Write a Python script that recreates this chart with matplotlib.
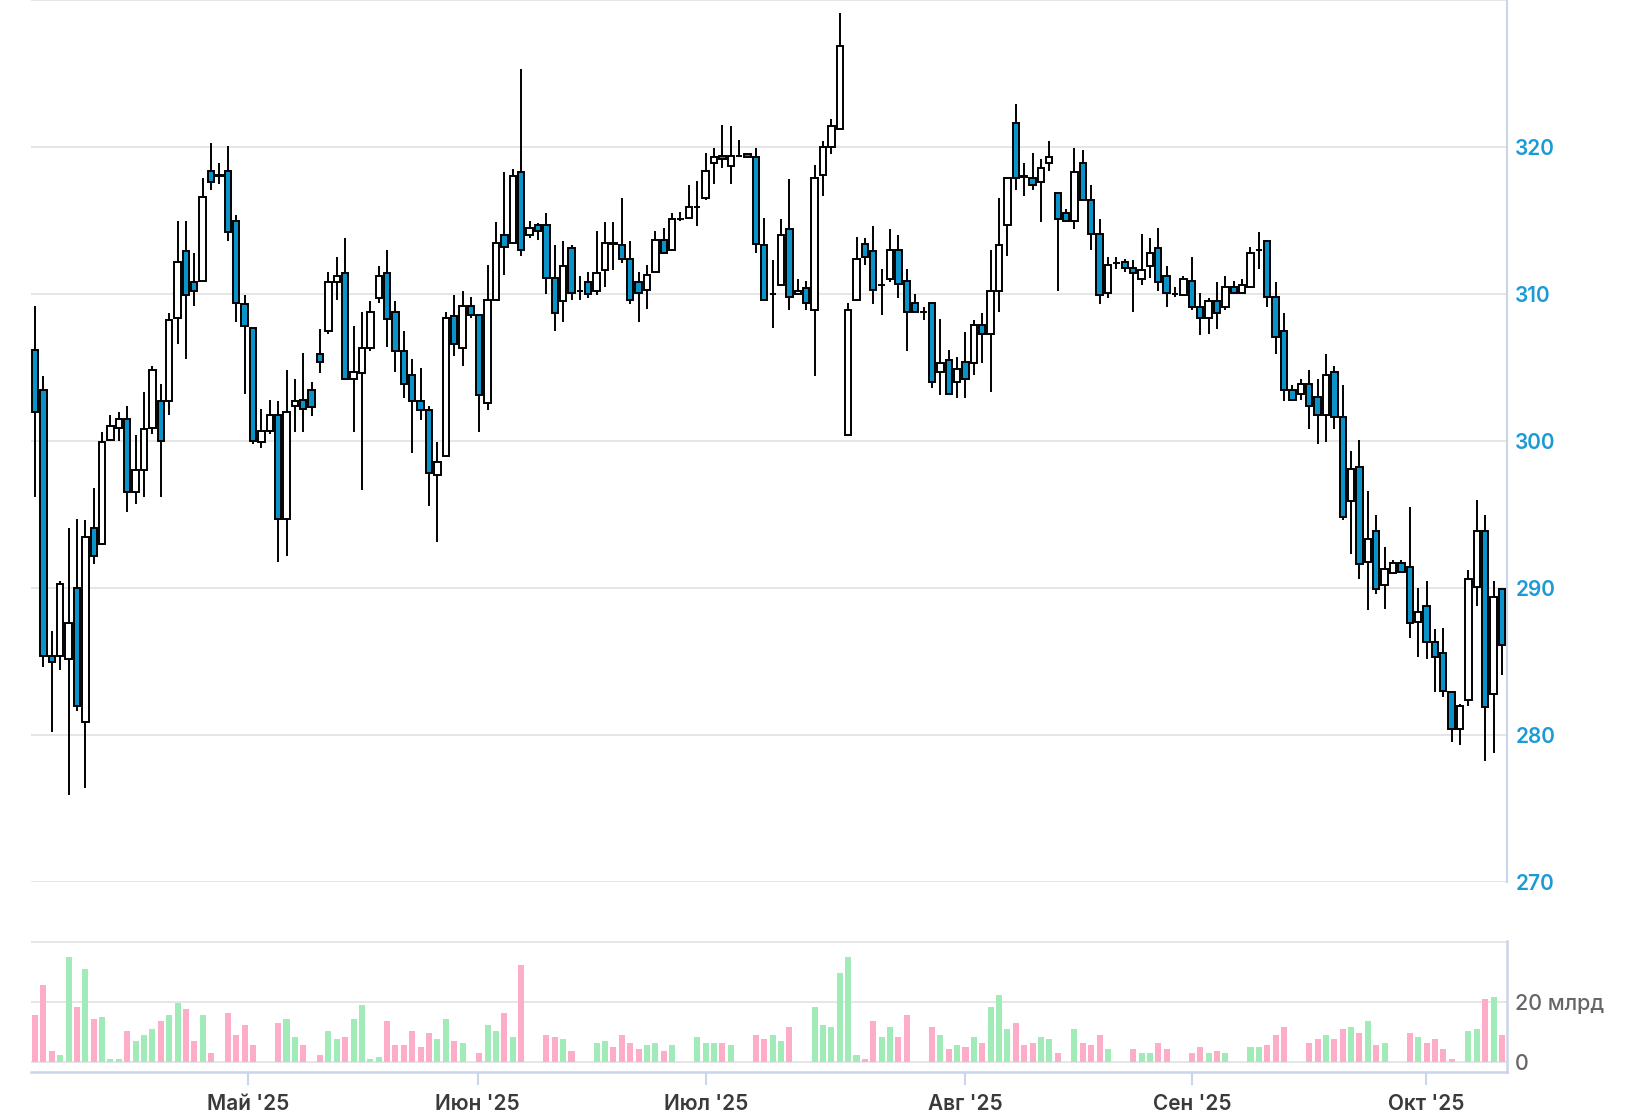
import numpy as np
import matplotlib
matplotlib.use("Agg")
import matplotlib.pyplot as plt

plt.rcParams['font.family'] = ['Inter', 'DejaVu Sans']

# daily candles (open, high, low, close)
opens = [306.2, 303.5, 285.4, 285.4, 285.2, 290.0, 280.9, 294.1, 293.0, 300.1,
         300.9, 301.5, 296.5, 298.0, 300.9, 302.7, 302.7, 308.4, 312.9, 310.8,
         310.9, 318.4, 318.0, 318.4, 315.0, 309.3, 307.7, 299.9, 300.7, 301.8,
         294.7, 302.4, 302.8, 303.5, 305.9, 307.5, 310.8, 311.4, 304.2, 304.6,
         306.3, 309.7, 311.4, 308.8, 306.1, 304.5, 302.7, 302.1, 297.7, 299.0,
         308.5, 306.3, 309.2, 308.6, 302.6, 309.6, 314.0, 313.5, 318.3, 314.0,
         314.7, 314.7, 311.1, 309.5, 313.1, 310.2, 310.8, 310.2, 311.6, 313.45,
         313.3, 312.4, 310.8, 310.3, 311.5, 313.7, 313.0, 315.1, 315.2, 315.9,
         316.5, 318.9, 319.4, 318.7, 319.4, 319.5, 319.3, 313.3, 310.0, 310.6,
         314.4, 310.0, 310.4, 308.9, 318.1, 320.0, 321.2, 300.4, 309.6, 313.4,
         312.9, 310.6, 311.0, 313.0, 310.9, 309.4, 308.8, 309.4, 304.7, 305.5,
         304.0, 305.4, 305.3, 307.9, 307.3, 310.2, 314.7, 321.6, 318.0, 317.9,
         317.6, 318.9, 316.9, 315.5, 315.0, 318.9, 316.4, 314.1, 310.1, 312.1,
         312.2, 311.8, 311.0, 311.9, 313.1, 311.2, 310.0, 309.9, 310.9, 309.1,
         308.4, 309.5, 309.1, 310.5, 310.1, 310.5, 313.0, 313.6, 309.8, 307.5,
         303.5, 303.2, 303.9, 303.0, 301.8, 304.7, 301.6, 295.9, 298.2, 291.8,
         293.9, 290.2, 291.0, 291.7, 291.4, 287.7, 288.8, 286.3, 285.6, 282.9,
         280.4, 282.4, 290.1, 293.9, 282.8, 289.9]
highs = [309.2, 304.4, 287.1, 290.5, 294.1, 294.7, 294.6, 296.8, 300.6, 301.8,
         302.0, 302.4, 300.4, 303.3, 305.1, 303.9, 308.7, 315.0, 315.0, 312.8,
         317.9, 320.3, 318.9, 320.1, 315.4, 309.9, 307.7, 302.2, 302.8, 302.7,
         304.8, 304.2, 306.0, 304.0, 307.6, 311.5, 312.5, 313.8, 307.8, 308.8,
         309.5, 311.9, 313.0, 309.5, 307.5, 305.6, 305.0, 302.4, 299.9, 308.8,
         309.9, 310.2, 309.8, 308.6, 312.0, 314.9, 318.3, 318.5, 325.3, 315.0,
         314.8, 315.5, 313.3, 313.6, 313.3, 311.2, 311.5, 314.3, 314.9, 314.9,
         316.5, 313.6, 311.5, 312.0, 314.3, 314.5, 315.5, 315.6, 317.4, 317.7,
         319.6, 319.9, 321.5, 321.4, 320.5, 319.5, 319.9, 315.2, 312.3, 315.1,
         317.8, 311.0, 310.9, 318.8, 320.4, 321.9, 329.1, 309.4, 313.9, 313.8,
         314.6, 311.7, 314.4, 314.0, 311.7, 310.0, 309.1, 309.4, 308.3, 306.2,
         305.7, 307.4, 308.2, 308.7, 313.0, 316.5, 317.9, 322.9, 318.9, 319.6,
         319.2, 320.4, 316.9, 315.8, 319.9, 319.8, 317.4, 315.1, 312.5, 312.5,
         312.4, 312.3, 314.1, 313.8, 314.5, 311.9, 310.5, 311.2, 312.5, 310.1,
         309.7, 310.8, 311.2, 310.9, 311.0, 313.2, 314.2, 313.6, 310.8, 308.7,
         303.8, 304.2, 304.8, 304.2, 305.9, 305.1, 303.8, 299.3, 300.1, 296.6,
         295.0, 292.8, 291.9, 291.9, 295.5, 290.0, 290.5, 287.2, 287.3, 282.9,
         282.1, 291.2, 296.0, 295.0, 290.5, 289.9]
lows = [296.2, 284.6, 280.2, 284.4, 275.9, 281.6, 276.4, 291.6, 292.9, 300.1,
        300.0, 295.2, 295.7, 296.2, 300.5, 296.2, 301.8, 306.6, 305.6, 309.2,
        310.9, 317.1, 317.5, 313.6, 308.1, 303.2, 299.8, 299.5, 300.5, 291.8,
        292.2, 300.6, 300.6, 301.7, 304.6, 307.3, 309.6, 304.2, 300.6, 296.7,
        306.1, 309.4, 306.4, 304.7, 302.9, 299.2, 301.4, 295.6, 293.1, 299.0,
        305.8, 305.1, 308.4, 300.6, 302.1, 309.5, 311.3, 313.4, 312.6, 313.8,
        313.7, 310.0, 307.5, 308.1, 309.6, 309.6, 309.7, 309.9, 310.5, 311.6,
        312.1, 309.3, 308.1, 309.0, 311.5, 312.8, 313.0, 315.0, 315.2, 314.6,
        316.4, 317.5, 318.6, 317.5, 319.4, 319.3, 312.8, 309.6, 307.7, 310.6,
        308.9, 309.9, 308.9, 304.4, 316.7, 319.5, 321.2, 300.4, 309.6, 312.0,
        309.3, 308.6, 310.8, 309.7, 306.1, 308.8, 308.2, 303.6, 303.1, 303.2,
        302.9, 302.9, 304.5, 305.3, 303.3, 308.8, 312.6, 317.1, 316.7, 317.1,
        314.9, 318.4, 310.2, 315.0, 314.4, 316.3, 313.0, 309.3, 309.7, 311.7,
        311.5, 308.8, 310.6, 311.1, 310.2, 309.1, 309.8, 309.9, 308.9, 307.2,
        307.3, 307.6, 308.9, 310.1, 310.1, 310.5, 311.7, 309.1, 305.9, 302.7,
        302.7, 302.8, 300.8, 299.8, 299.9, 300.8, 294.6, 292.3, 290.6, 288.5,
        289.6, 288.6, 291.0, 291.1, 286.6, 285.3, 285.2, 282.9, 282.6, 279.5,
        279.3, 282.0, 288.8, 278.2, 278.8, 284.1]
closes = [302.0, 285.4, 285.0, 290.3, 287.6, 282.0, 293.5, 292.2, 299.9, 301.0,
          301.5, 296.5, 298.0, 300.8, 304.8, 300.0, 308.2, 312.2, 309.9, 310.2,
          316.6, 317.6, 318.1, 314.2, 309.4, 307.8, 300.0, 300.7, 301.8, 294.7,
          302.0, 302.7, 302.2, 302.3, 305.4, 310.8, 311.2, 304.2, 304.7, 306.3,
          308.8, 311.2, 308.3, 306.1, 303.9, 302.7, 302.1, 297.8, 298.6, 308.4,
          306.6, 309.2, 308.6, 303.1, 309.6, 313.5, 313.2, 318.0, 313.0, 314.5,
          314.3, 311.1, 308.7, 311.9, 310.1, 310.2, 310.0, 311.4, 313.5, 313.4,
          312.4, 309.6, 310.1, 311.3, 313.7, 312.8, 315.1, 315.1, 315.9, 315.9,
          318.4, 319.3, 319.2, 319.4, 319.4, 319.3, 313.4, 309.6, 310.0, 314.0,
          309.8, 310.2, 309.4, 317.9, 320.0, 321.4, 326.9, 308.9, 312.4, 312.5,
          310.3, 310.6, 313.0, 310.7, 308.8, 308.8, 308.8, 304.0, 305.3, 303.2,
          304.9, 304.2, 307.9, 307.3, 310.2, 313.3, 317.9, 317.9, 317.95, 317.4,
          318.6, 319.3, 315.1, 315.0, 318.3, 316.4, 314.1, 309.9, 312.0, 312.1,
          311.8, 311.4, 311.6, 312.8, 310.8, 310.1, 310.0, 311.0, 309.1, 308.4,
          309.5, 308.7, 310.5, 310.1, 310.6, 312.8, 313.0, 309.8, 307.1, 303.5,
          302.8, 303.9, 302.4, 301.8, 304.5, 301.6, 294.8, 298.1, 291.6, 293.3,
          289.9, 291.3, 291.7, 291.1, 287.6, 288.4, 286.3, 285.3, 283.0, 280.4,
          282.0, 290.6, 293.9, 281.9, 289.4, 286.1]
# traded value, bn RUB
volumes = [15.6, 25.6, 3.6, 2.2, 34.9, 18.2, 30.9, 14.2, 14.9, 0.9,
           0.9, 10.2, 6.9, 8.9, 10.9, 13.6, 15.6, 19.6, 17.6, 6.9,
           15.6, 2.9, 0, 16.2, 8.9, 12.2, 5.6, 0, 0, 12.9,
           14.2, 8.2, 5.6, 0, 2.2, 10.2, 7.6, 8.2, 14.2, 18.9,
           0.9, 1.6, 13.6, 5.6, 5.6, 10.2, 4.9, 9.6, 7.6, 14.2,
           6.9, 6.2, 0, 2.9, 12.2, 10.2, 16.2, 8.2, 32.2, 0,
           0, 8.9, 8.2, 7.6, 3.6, 0, 0, 6.2, 6.9, 4.9,
           8.9, 6.2, 4.2, 5.6, 6.2, 3.6, 5.6, 0, 0, 8.2,
           6.2, 6.2, 6.2, 5.6, 0, 0, 8.9, 7.6, 8.9, 6.9,
           11.6, 0, 0, 18.2, 12.2, 11.6, 29.6, 34.9, 2.2, 0.9,
           13.6, 8.2, 11.6, 8.2, 15.6, 0, 0, 11.6, 8.9, 4.2,
           5.6, 4.9, 8.2, 6.2, 18.2, 22.2, 10.9, 12.9, 5.6, 6.2,
           8.2, 7.6, 2.9, 0, 10.9, 6.2, 5.6, 8.9, 4.2, 0,
           0, 4.2, 2.9, 2.9, 6.2, 4.2, 0, 0, 2.9, 4.9,
           2.9, 3.6, 2.9, 0, 0, 4.9, 4.9, 5.6, 8.9, 11.6,
           0, 0, 6.2, 7.6, 8.9, 7.6, 10.9, 11.6, 9.6, 13.6,
           5.6, 6.2, 0, 0, 9.6, 8.2, 6.2, 7.6, 4.2, 0.9,
           0, 10.2, 10.9, 20.9, 21.6, 8.9]

month_labels = ["Май '25", "Июн '25", "Июл '25", "Авг '25", "Сен '25", "Окт '25"]
month_pos = [25.4, 52.8, 80.0, 111.0, 138.0, 165.9]

price_ticks = [270, 280, 290, 300, 310, 320, 330]
vol_ticks = [0, 20, 40]
vol_tick_labels = ["0", "20 млрд", ""]

o = np.array(opens)
h = np.array(highs)
l = np.array(lows)
c = np.array(closes)
v = np.array(volumes)
x = np.arange(len(o))
up = c >= o

BLUE = '#0a93c8'
GRID = '#e4e4e4'
AXIS = '#cbd5e8'

W, H = 1634, 1119
fig = plt.figure(figsize=(W / 100, H / 100), dpi=100)

ax = fig.add_axes([31 / W, 1 - 882 / H, 1476 / W, 882 / H])
ax.vlines(x, l, h, color='black', lw=1.4, zorder=2)
ax.bar(x, np.abs(c - o), bottom=np.minimum(o, c), width=0.76,
       color=np.where(up, 'white', BLUE), edgecolor='black', linewidth=1.4, zorder=3)
ax.set_xlim(-0.48, 175.6)
ax.set_ylim(270, 330)
ax.set_yticks(price_ticks)
ax.set_yticklabels([str(t) if t < 330 else '' for t in price_ticks])
ax.yaxis.tick_right()
ax.tick_params(axis='y', length=0, pad=6, labelsize=15, labelcolor='#1a9ad6')
for lab in ax.get_yticklabels():
    lab.set_fontweight('semibold')
ax.set_xticks([])
ax.grid(axis='y', color=GRID, lw=1.3, zorder=0)
ax.set_axisbelow(True)
for s in ['left', 'top', 'bottom']:
    ax.spines[s].set_visible(False)
ax.spines['right'].set_color(AXIS)
ax.spines['right'].set_linewidth(1.5)

ax2 = fig.add_axes([31 / W, 1 - 1072 / H, 1476 / W, 131 / H])
ax2.bar(x, v, width=0.72, color=np.where(up, '#a0ebb8', '#feadc8'), lw=0, zorder=2)
ax2.set_xlim(-0.48, 175.6)
ax2.set_ylim(-3.33, 40.3)
ax2.set_yticks(vol_ticks)
ax2.set_yticklabels(vol_tick_labels)
ax2.yaxis.tick_right()
ax2.tick_params(axis='y', length=0, pad=6, labelsize=15.5, labelcolor='#666666')
for lab in ax2.get_yticklabels():
    lab.set_fontweight('medium')
ax2.grid(axis='y', color=GRID, lw=1.3, zorder=0)
ax2.set_axisbelow(True)
ax2.set_xticks(month_pos)
ax2.set_xticklabels(month_labels)
ax2.tick_params(axis='x', direction='out', length=9.5, width=1.5, color=AXIS,
                labelsize=15, labelcolor='#3a3a3a', pad=6)
for lab in ax2.get_xticklabels():
    lab.set_fontweight('semibold')
for s in ['left', 'top']:
    ax2.spines[s].set_visible(False)
for s in ['right', 'bottom']:
    ax2.spines[s].set_color(AXIS)
    ax2.spines[s].set_linewidth(1.8)

fig.savefig('out.png', dpi=100)
